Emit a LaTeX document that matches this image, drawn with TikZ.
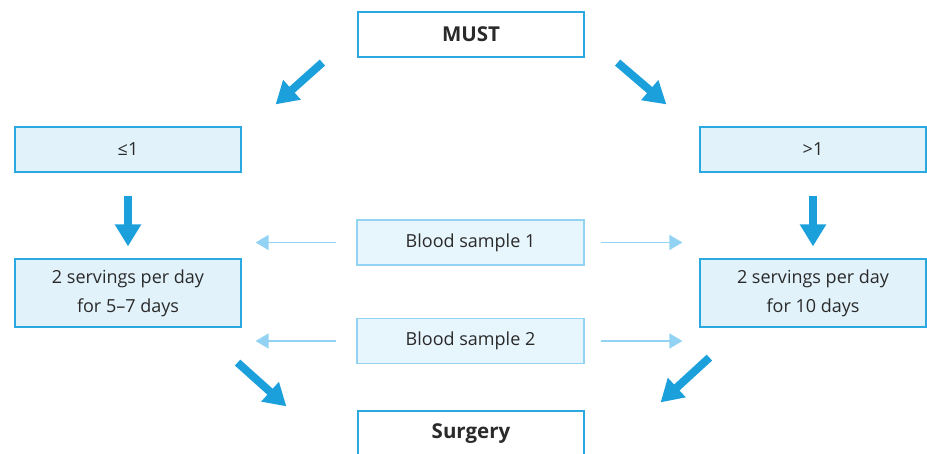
\documentclass[tikz,border=0pt]{standalone}
\usepackage{fontspec}
\setmainfont{Open Sans}
\usetikzlibrary{
  arrows.meta,
  calc,
}
\definecolor{arrowblue}{HTML}{1BA0DC}
\definecolor{boxline}{HTML}{2AA8E0}
\definecolor{boxfill}{HTML}{E1F2FA}
\definecolor{sampleline}{HTML}{92D2F2}
\definecolor{samplefill}{HTML}{E7F5FC}
\definecolor{textgray}{HTML}{2A2A2A}

\begin{document}
\begin{tikzpicture}[
  x=1pt, y=-1pt,
  every node/.style={text=textgray, font=\fontsize{18}{29}\selectfont},
  endbox/.style={draw=boxline, line width=1.2pt, fill=white,
    minimum width=226pt, minimum height=45pt, font=\fontsize{20.5}{29}\selectfont\bfseries},
  dosebox/.style={draw=boxline, line width=1.2pt, fill=boxfill,
    minimum width=226pt, minimum height=45pt, align=center},
  samplebox/.style={draw=sampleline, line width=1.2pt, fill=samplefill,
    minimum width=227pt, minimum height=45pt},
  bigarrow/.style={draw=arrowblue, line width=8pt,
    -{Triangle[length=22pt,width=25pt]}},
  thinarrow/.style={draw=sampleline, line width=1.3pt,
    -{Triangle[length=13pt,width=15pt]}},
]
\useasboundingbox (0,0) rectangle (927,454);
\clip (0,0) rectangle (927,454);

\node[endbox] (must) at (471,34.5) {MUST};
\node[dosebox] (le) at (128,149.5) {≤1};
\node[dosebox] (gt) at (813,149.5) {>1};
\node[dosebox, minimum height=68pt] (le2) at (128,293) {2 servings per day\\for 5–7 days};
\node[dosebox, minimum height=68pt] (gt2) at (813,293) {2 servings per day\\for 10 days};
\node[samplebox] (bs1) at (470.5,242.5) {Blood sample 1};
\node[samplebox] (bs2) at (470.5,341) {Blood sample 2};
\node[endbox, minimum height=46pt] (surgery) at (471,434) {Surgery};

% thick arrows
\draw[bigarrow] ([shift={(-35,5)}]must.south west) -- ([shift={(34,-22)}]le.north east);
\draw[bigarrow] ([shift={(33,5)}]must.south east) -- ([shift={(-33,-22)}]gt.north west);
\draw[bigarrow] ([yshift=-23pt]le.south) -- ([yshift=12pt]le2.north);
\draw[bigarrow] ([yshift=-23pt]gt.south) -- ([yshift=12pt]gt2.north);
\draw[bigarrow] ([shift={(-4,35)}]le2.south east) -- ([shift={(-71,-4)}]surgery.north west);
\draw[bigarrow] ([shift={(10,30)}]gt2.south west) -- ([shift={(76,-8)}]surgery.north east);

% sample arrows
\foreach \s in {bs1,bs2} {
  \draw[thinarrow] ([xshift=-20pt]\s.west) -- ([xshift=14pt]\s.west -| le.east);
  \draw[thinarrow] ([xshift=16pt]\s.east) -- ([xshift=-17pt]\s.east -| gt.west);
}
\end{tikzpicture}
\end{document}
